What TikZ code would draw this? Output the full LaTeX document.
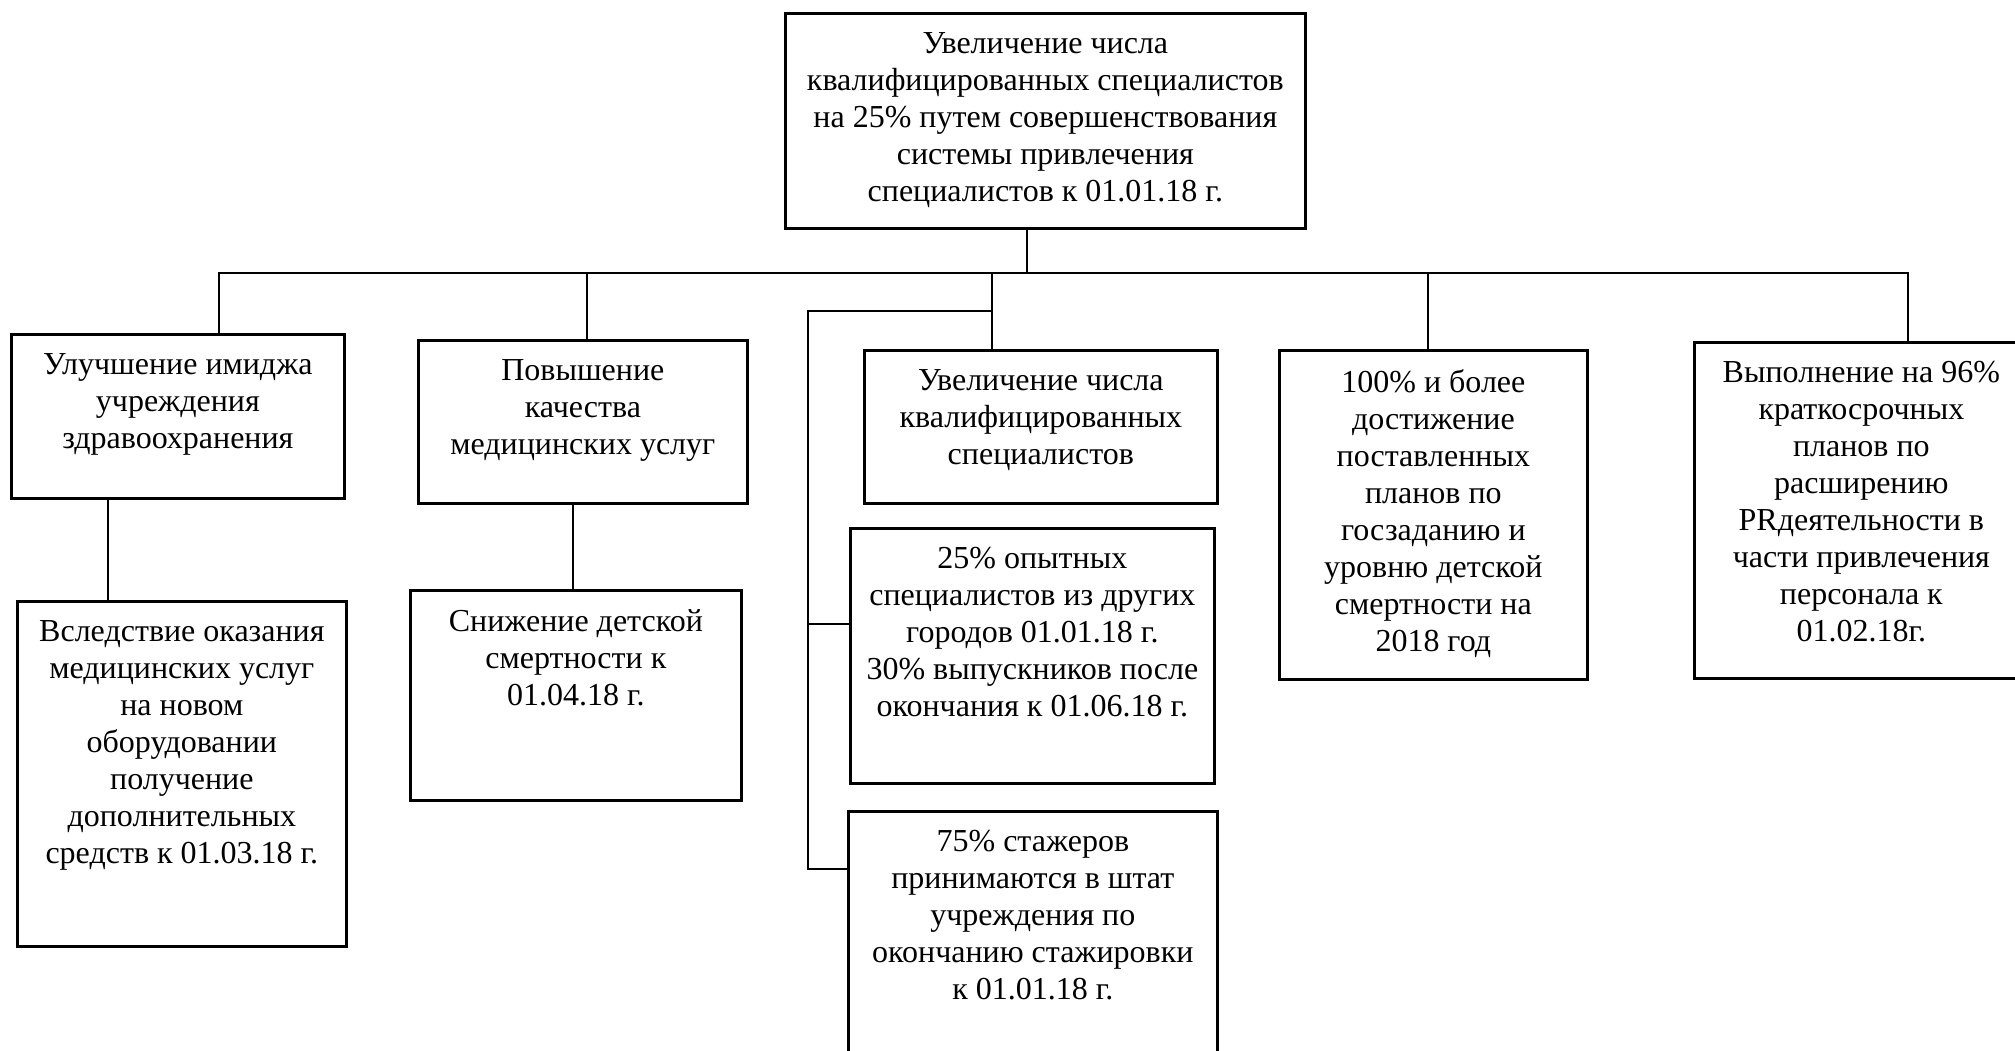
\documentclass[tikz,border=0pt]{standalone}
\usepackage{fontspec}
\setmainfont{Liberation Serif}
\usepackage{tikz}
\usetikzlibrary{positioning}
\tikzset{goal/.style={draw,line width=2.7pt,anchor=north west,inner sep=0pt},
  txt/.style={anchor=north,align=center,inner sep=0pt,yshift=-20pt,font=\fontsize{32}{37}\selectfont},
  link/.style={line width=2.7pt}}

\begin{document}
\begin{tikzpicture}[x=1pt,y=-1pt]
\useasboundingbox (0,0) rectangle (2015,1051);
\node[goal,minimum width=520pt,minimum height=215pt,label={[txt]north:Увеличение числа\\квалифицированных специалистов\\на 25\% путем совершенствования\\системы привлечения\\специалистов к 01.01.18 г.}]
  (main) at (784,12) {};
\node[goal,minimum width=333pt,minimum height=164pt,label={[txt]north:Улучшение имиджа\\учреждения\\здравоохранения}]
  (image) at (10,333) {};
\node[goal,minimum width=329pt,minimum height=163pt,label={[txt]north:Повышение\\качества\\медицинских услуг}]
  (quality) at (417,339) {};
\node[goal,minimum width=353pt,minimum height=153pt,label={[txt]north:Увеличение числа\\квалифицированных\\специалистов}]
  (staff) at (863,349) {};
\node[goal,minimum width=308pt,minimum height=329pt,label={[txt]north:100\% и более\\достижение\\поставленных\\планов по\\госзаданию и\\уровню детской\\смертности на\\2018 год}]
  (plan) at (1278,349) {};
\node[goal,minimum width=334pt,minimum height=336pt,label={[txt]north:Выполнение на 96\%\\краткосрочных\\планов по\\расширению\\PRдеятельности в\\части привлечения\\персонала к\\01.02.18г.}]
  (pr) at (1693,341) {};
\node[goal,minimum width=329pt,minimum height=345pt,label={[txt]north:Вследствие оказания\\медицинских услуг\\на новом\\оборудовании\\получение\\дополнительных\\средств к 01.03.18 г.}]
  (funds) at (16,600) {};
\node[goal,minimum width=331pt,minimum height=210pt,label={[txt]north:Снижение детской\\смертности к\\01.04.18 г.}]
  (death) at (409,589) {};
\node[goal,minimum width=364pt,minimum height=255pt,label={[txt]north:25\% опытных\\специалистов из других\\городов 01.01.18 г.\\30\% выпускников после\\окончания к 01.06.18 г.}]
  (expert) at (849,527) {};
\node[goal,minimum width=369pt,minimum height=260pt,label={[txt]north:75\% стажеров\\принимаются в штат\\учреждения по\\окончанию стажировки\\к 01.01.18 г.}]
  (intern) at (847,810) {};

% bus under the main goal
\coordinate (hub) at (1027,273);
\coordinate (busW) at (219,273);
\coordinate (busE) at (1908,273);
\coordinate (dQuality) at (587,273);
\coordinate (dStaff) at (992,273);
\coordinate (dPlan) at (1428,273);
\draw[link] (hub |- main.south) -- (hub);
\draw[link] (image.north -| busW) -- (busW) -- (busE) -- (busE |- pr.north);
\draw[link] (dQuality) -- (dQuality |- quality.north);
\draw[link] (dStaff) -- (dStaff |- staff.north);
\draw[link] (dPlan) -- (dPlan |- plan.north);

% second level
\coordinate (dFunds) at (108,0);
\coordinate (dDeath) at (573,0);
\draw[link] (dFunds |- image.south) -- (dFunds |- funds.north);
\draw[link] (dDeath |- quality.south) -- (dDeath |- death.north);

% bracket to the staff measures
\coordinate (br) at (808,311);
\coordinate (tExpert) at (808,624);
\coordinate (tIntern) at (808,869);
\draw[link] (br -| dStaff) -- (br) -- (tIntern) -- (tIntern -| intern.west);
\draw[link] (tExpert) -- (tExpert -| expert.west);
\end{tikzpicture}
\end{document}
